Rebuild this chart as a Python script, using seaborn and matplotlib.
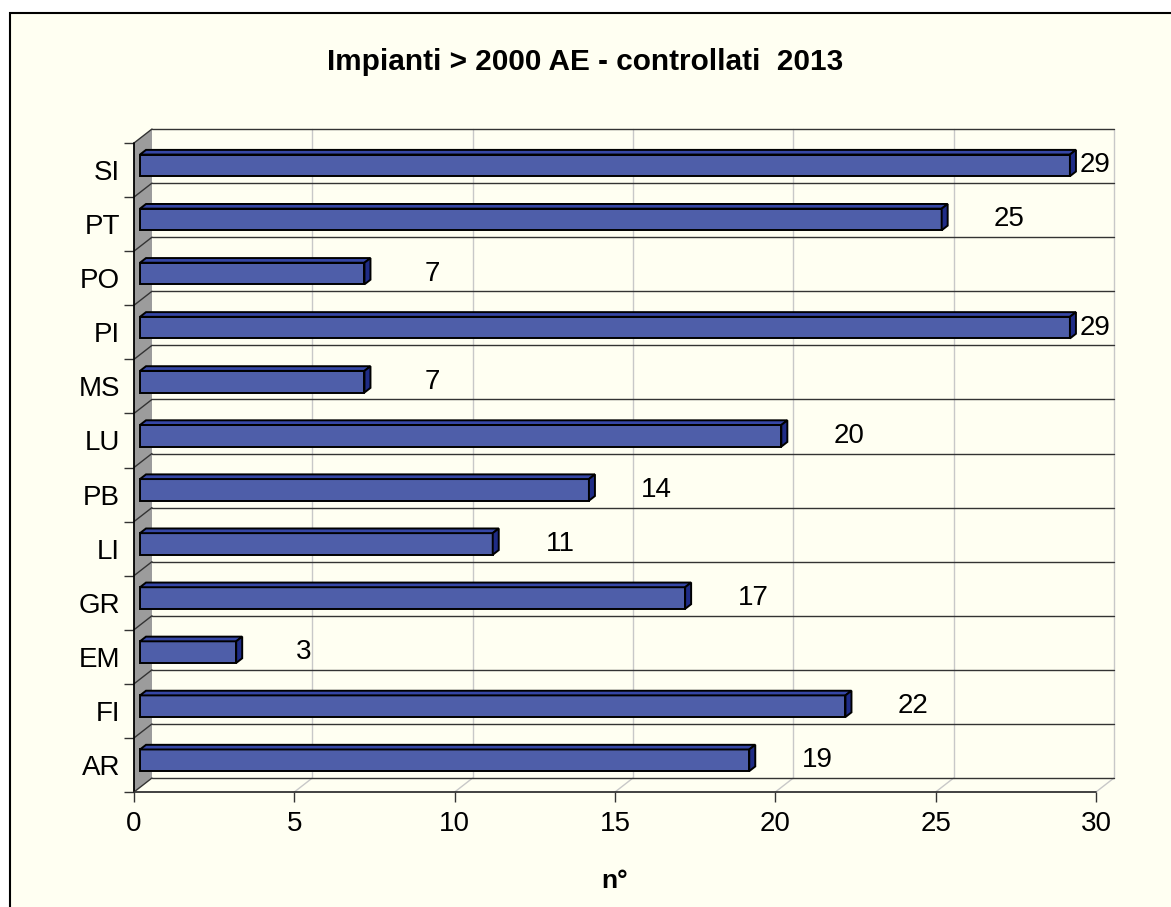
import numpy as np
import pandas as pd
import seaborn as sns
import matplotlib.pyplot as plt
from matplotlib.patches import Polygon, Rectangle

# data
province = ['SI', 'PT', 'PO', 'PI', 'MS', 'LU', 'PB', 'LI', 'GR', 'EM', 'FI', 'AR']
impianti = [29, 25, 7, 29, 7, 20, 14, 11, 17, 3, 22, 19]
x_ticks = [0, 5, 10, 15, 20, 25, 30]

W, H = 1171, 907
cream = '#FFFFF2'
front_col = '#4E5EA9'
top_col = '#3647A6'
side_col = '#1F2C86'

sns.set_style('white')
plt.rcParams['font.family'] = ['Liberation Sans', 'DejaVu Sans']
plt.rcParams['text.color'] = 'black'
plt.rcParams['axes.labelcolor'] = 'black'
plt.rcParams['xtick.labelcolor'] = 'black'
plt.rcParams['ytick.labelcolor'] = 'black'

fig = plt.figure(figsize=(W / 100, H / 100), dpi=100)
fig.patch.set_facecolor('white')
# chart area frame (right/bottom edges run off the picture)
fig.add_artist(Rectangle((10 / W, -0.05), 1.1, 1 - 13 / H + 0.05,
                         transform=fig.transFigure, facecolor=cream,
                         edgecolor='black', lw=1.5, zorder=0))

ax = fig.add_axes([134 / W, 1 - 792 / H, 962 / W, 649 / H])
ax.patch.set_alpha(0)

df = pd.DataFrame({'provincia': province, 'n': impianti})
sns.barplot(data=df, y='provincia', x='n', orient='h', width=0.4,
            color=front_col, saturation=1, edgecolor='black', linewidth=1.4,
            ax=ax, zorder=5)
bars = list(ax.patches)

n = len(province)
ax.set_xlim(0, 30)
ax.set_ylim(n - 0.5, -0.5)

# 3D depth expressed in data units
ddx = 18 / (962 / 30)
ddy = 14 / (649 / n)
bounds = np.arange(n + 1) - 0.5
grid_dark = '#333333'
grid_light = '#C8C8C8'

# left wall
ax.add_patch(Polygon([(0, -0.5), (ddx, -0.5 - ddy), (ddx, n - 0.5 - ddy), (0, n - 0.5)],
                     closed=True, facecolor='#9C9C9C', edgecolor='none',
                     clip_on=False, zorder=1))
ax.plot([0, 0], [-0.5, n - 0.5], color='black', lw=1.3, clip_on=False, zorder=2)

# vertical gridlines on back wall and floor
for xv in x_ticks[1:]:
    ax.plot([xv + ddx, xv + ddx], [-0.5 - ddy, n - 0.5 - ddy], color=grid_light,
            lw=1, clip_on=False, zorder=1)
    ax.plot([xv, xv + ddx], [n - 0.5, n - 0.5 - ddy], color=grid_light,
            lw=1, clip_on=False, zorder=1)

# horizontal gridlines on back wall + diagonals on the side wall
for b in bounds:
    ax.plot([ddx, 30 + ddx], [b - ddy, b - ddy], color=grid_dark, lw=1,
            clip_on=False, zorder=1.5)
    ax.plot([0, ddx], [b, b - ddy], color=grid_dark, lw=1,
            clip_on=False, zorder=1.5)

# front floor edge
ax.plot([0, 30], [n - 0.5, n - 0.5], color=grid_dark, lw=1.3, clip_on=False, zorder=2)

# 3D bars: move the front face one third into the depth, add top and side faces
bdx, bdy = ddx / 3, ddy / 3
for p in bars:
    p.set_x(p.get_x() + bdx)
    p.set_y(p.get_y() - bdy)
    x0, x1 = p.get_x(), p.get_x() + p.get_width()
    y0, y1 = p.get_y(), p.get_y() + p.get_height()
    ax.add_patch(Polygon([(x0, y0), (x0 + bdx, y0 - bdy), (x1 + bdx, y0 - bdy), (x1, y0)],
                         closed=True, facecolor=top_col, edgecolor='black',
                         lw=1.4, zorder=5, clip_on=False))
    ax.add_patch(Polygon([(x1, y0), (x1 + bdx, y0 - bdy), (x1 + bdx, y1 - bdy), (x1, y1)],
                         closed=True, facecolor=side_col, edgecolor='black',
                         lw=1.4, zorder=5, clip_on=False))

# value labels
for i, v in enumerate(impianti):
    ax.text(min(v + 2.3, 29.97), i - bdy, str(v), ha='center', va='center',
            fontsize=20, color='black', clip_on=False, zorder=6)

sns.despine(ax=ax, left=True, bottom=True)
ax.set_xticks(x_ticks)
ax.set_xticklabels([str(t) for t in x_ticks])
ax.tick_params(axis='x', length=7, width=1, color=grid_dark, pad=7,
               labelsize=20, bottom=True)
ax.set_yticks(range(n))
ax.set_yticklabels(province)
ax.set_yticks(bounds, minor=True)
ax.tick_params(axis='y', which='major', length=0, pad=10, labelsize=20)
ax.tick_params(axis='y', which='minor', length=7, width=1, color=grid_dark, left=True)
ax.set_ylabel('')

ax.set_xlabel('n°', fontsize=19, fontweight='bold', color='black')
ax.xaxis.set_label_coords(0.5, (792 - 881) / 649)
ax.xaxis.label.set_va('center')

fig.text(0.5, 1 - 62 / H, 'Impianti > 2000 AE - controllati  2013',
         ha='center', va='center', fontsize=21.4, fontweight='bold', color='black')

fig.savefig('out.png', dpi=100, facecolor=fig.get_facecolor())
